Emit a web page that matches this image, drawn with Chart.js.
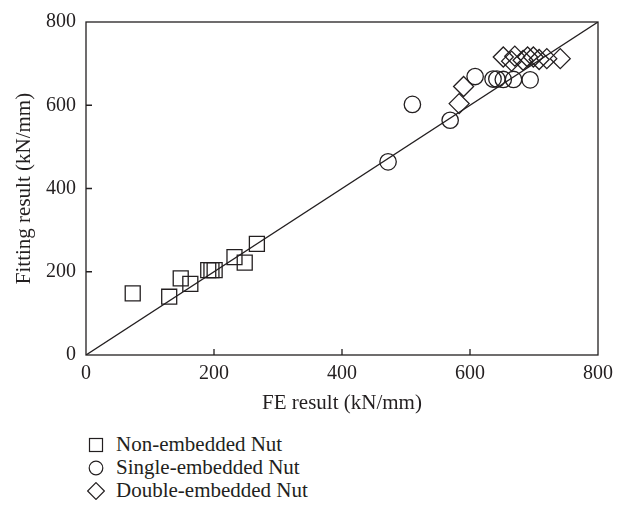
<!DOCTYPE html>
<html>
<head>
<meta charset="utf-8">
<script src="https://cdn.jsdelivr.net/npm/chart.js@4.4.0/dist/chart.umd.min.js"></script>
<style>
  body { margin: 0; background: #fff; width: 626px; height: 511px; overflow: hidden;
         font-family: "Liberation Serif", "DejaVu Serif", serif; color: #231f20; }
  #chart { position: absolute; left: 0; top: 0; }
  #legend { position: absolute; left: 87px; top: 433px; font-size: 21px; }
  .item { height: 23px; display: flex; align-items: center; white-space: nowrap; }
  .item svg { width: 18px; height: 18px; margin-right: 11px; }
</style>
</head>
<body>
<canvas id="chart" width="626" height="420"></canvas>
<div id="legend"></div>
<script>
// data
const nonX = [73, 130, 148, 163, 191, 196, 201, 232, 248, 267];
const nonY = [148, 140, 184, 171, 204, 204, 204, 235, 222, 267];

const singleX = [472, 510, 569, 608, 636, 642, 652, 668, 694];
const singleY = [464, 602, 564, 669, 663, 663, 662, 662, 661];

const doubleX = [583, 590, 652, 665, 670, 683, 690, 699, 708, 720, 741];
const doubleY = [604, 645, 716, 706, 718, 708, 716, 716, 710, 712, 712];

const refX = [0, 800];
const refY = [0, 800];

const seriesNames = ["Non-embedded Nut", "Single-embedded Nut", "Double-embedded Nut"];
const tickValues = [0, 200, 400, 600, 800];

const ink = "#231f20";
const family = "'Liberation Serif', 'DejaVu Serif', serif";
const tickFont = { family: family, size: 20 };
const titleFont = { family: family, size: 21 };

const pts = (xs, ys) => xs.map((x, i) => ({ x: x, y: ys[i] }));

// inward tick marks + frame around the plot
const frame = {
  id: "frame",
  afterDraw(chart) {
    const { ctx, chartArea: a, scales } = chart;
    ctx.save();
    ctx.strokeStyle = ink;
    ctx.lineWidth = 1.3;
    ctx.strokeRect(a.left, a.top, a.right - a.left, a.bottom - a.top);
    ctx.beginPath();
    tickValues.slice(1, -1).forEach(v => {
      const px = scales.x.getPixelForValue(v);
      ctx.moveTo(px, a.bottom);
      ctx.lineTo(px, a.bottom - 6);
      const py = scales.y.getPixelForValue(v);
      ctx.moveTo(a.left, py);
      ctx.lineTo(a.left + 6, py);
    });
    ctx.stroke();
    ctx.restore();
  }
};

const markerBase = {
  backgroundColor: "rgba(0,0,0,0)",
  borderColor: ink,
  pointBorderWidth: 1.3,
  showLine: false
};

new Chart(document.getElementById("chart"), {
  type: "scatter",
  data: {
    datasets: [
      { ...markerBase, label: seriesNames[0], data: pts(nonX, nonY), pointStyle: "rect", pointRadius: 10.6 },
      { ...markerBase, label: seriesNames[1], data: pts(singleX, singleY), pointStyle: "circle", pointRadius: 8.2 },
      { ...markerBase, label: seriesNames[2], data: pts(doubleX, doubleY), pointStyle: "rectRot", pointRadius: 10 },
      { type: "line", label: "ref", data: pts(refX, refY), borderColor: ink, borderWidth: 1.3,
        pointRadius: 0, fill: false }
    ]
  },
  options: {
    responsive: false,
    animation: false,
    layout: { padding: { left: 0, right: 28, top: 16, bottom: 0 } },
    plugins: { legend: { display: false }, tooltip: { enabled: false } },
    scales: {
      x: {
        type: "linear", min: 0, max: 800,
        grid: { display: false, drawTicks: false }, border: { display: false },
        ticks: { stepSize: 200, color: ink, font: tickFont, padding: 7, maxRotation: 0 },
        title: { display: true, text: "FE result (kN/mm)", color: ink, font: titleFont, padding: { top: 0, bottom: 4 } },
        afterFit: s => { s.height = 65; }
      },
      y: {
        type: "linear", min: 0, max: 800,
        grid: { display: false, drawTicks: false }, border: { display: false },
        ticks: { stepSize: 200, color: ink, font: tickFont, padding: 10 },
        title: { display: true, text: "Fitting result (kN/mm)", color: ink, font: titleFont, padding: { top: 12, bottom: 0 } },
        afterFit: s => { s.width = 86; }
      }
    }
  },
  plugins: [frame]
});

// legend list below the chart
const symbols = [
  '<rect x="2.5" y="2.5" width="13" height="13" fill="none" stroke="' + ink + '" stroke-width="1.2"/>',
  '<circle cx="9" cy="9" r="6.8" fill="none" stroke="' + ink + '" stroke-width="1.2"/>',
  '<polygon points="9,0.6 17.4,9 9,17.4 0.6,9" fill="none" stroke="' + ink + '" stroke-width="1.2"/>'
];
document.getElementById("legend").innerHTML = seriesNames.map((n, i) =>
  '<div class="item"><svg viewBox="0 0 18 18">' + symbols[i] + '</svg><span>' + n + '</span></div>'
).join("");
</script>
</body>
</html>
